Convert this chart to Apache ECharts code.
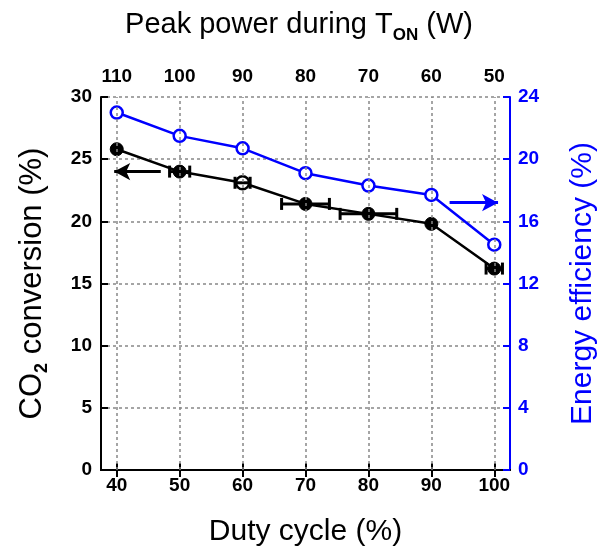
<!DOCTYPE html>
<html><head><meta charset="utf-8">
<script src="https://cdn.jsdelivr.net/npm/echarts@6/dist/echarts.min.js"></script>
<style>html,body{margin:0;padding:0;background:#fff}#c{width:598px;height:548px}</style>
</head><body><div id="c"></div>
<script>
// ---- data ----
const dutyCycle = [40, 50, 60, 70, 80, 90, 100];
const peakPower = [110, 100, 90, 80, 70, 60, 50];
const co2Conversion = [25.8, 24.0, 23.1, 21.4, 20.6, 19.8, 16.2];
const co2DutyErr = [0, 1.6, 1.2, 3.8, 4.5, 0, 1.3];
const energyEfficiency = [23.0, 21.5, 20.7, 19.1, 18.3, 17.7, 14.5];
const hollowIdx = [2];
const leftArrow = [[47.0, 24.0], [39.6, 24.0]];
const rightArrow = [[92.9, 17.2], [100.6, 17.2]];

const FONT = 'Liberation Sans';
const BLUE = '#0000ff';
const dutyMin = 37.5, dutyMax = 102.5;
const powerOf = d => 150 - d;

const chart = echarts.init(document.getElementById('c'), null, {renderer: 'canvas'});

const tickLabel = (color) => ({fontFamily: FONT, fontSize: 19, fontWeight: 'bold', color: color});

const option = {
  animation: false,
  backgroundColor: '#fff',
  title: {
    text: 'Peak power during T{s|ON} (W)',
    left: 'center', top: 1,
    textStyle: {
      fontFamily: FONT, fontSize: 29, fontWeight: 'normal', color: '#000', lineHeight: 38,
      rich: {s: {fontFamily: FONT, fontSize: 17, fontWeight: 'bold', color: '#000', lineHeight: 14, verticalAlign: 'bottom'}}
    }
  },
  grid: {left: 101, right: 88, top: 97, bottom: 78, containLabel: false, outerBoundsMode: 'none'},
  xAxis: [
    {
      type: 'value', position: 'bottom', min: dutyMin, max: dutyMax,
      name: 'Duty cycle (%)', nameLocation: 'middle', nameGap: 47,
      nameTextStyle: {fontFamily: FONT, fontSize: 30, color: '#000'},
      axisLine: {show: true, lineStyle: {color: '#000', width: 2}},
      axisTick: {show: true, inside: true, length: 7, lineStyle: {color: '#000', width: 2}, customValues: dutyCycle},
      axisLabel: Object.assign({customValues: dutyCycle, margin: 6}, tickLabel('#000')),
      splitLine: {show: false}
    },
    {
      type: 'value', position: 'top', min: powerOf(dutyMax), max: powerOf(dutyMin), inverse: true,
      axisLine: {show: true, lineStyle: {color: '#000', width: 2}},
      axisTick: {show: true, inside: true, length: 7, lineStyle: {color: '#000', width: 2}, customValues: peakPower},
      axisLabel: Object.assign({customValues: peakPower, margin: 11}, tickLabel('#000')),
      splitLine: {show: false}
    }
  ],
  yAxis: [
    {
      type: 'value', min: 0, max: 30, interval: 5, position: 'left',
      name: '{a|CO}{s|2}{a| conversion (%)}', nameLocation: 'middle', nameRotate: 90, nameGap: 50,
      nameTextStyle: {
        color: '#000', lineHeight: 38,
        rich: {
          a: {fontFamily: FONT, fontSize: 31, color: '#000', lineHeight: 38},
          s: {fontFamily: FONT, fontSize: 18, fontWeight: 'bold', color: '#000', lineHeight: 15, verticalAlign: 'bottom'}
        }
      },
      axisLine: {show: true, lineStyle: {color: '#000', width: 2}},
      axisTick: {show: true, inside: true, length: 7, lineStyle: {color: '#000', width: 2}},
      axisLabel: Object.assign({margin: 9}, tickLabel('#000')),
      splitLine: {show: true, lineStyle: {color: '#888', width: 1.5, type: [3, 3]}}
    },
    {
      type: 'value', min: 0, max: 24, interval: 4, position: 'right',
      name: 'Energy efficiency (%)', nameLocation: 'middle', nameRotate: 90, nameGap: 58,
      nameTextStyle: {fontFamily: FONT, fontSize: 30, color: BLUE},
      axisLine: {show: true, lineStyle: {color: BLUE, width: 2}},
      axisTick: {show: true, inside: true, length: 7, lineStyle: {color: BLUE, width: 2}},
      axisLabel: Object.assign({margin: 8}, tickLabel(BLUE)),
      splitLine: {show: false}
    }
  ],
  series: [
    {
      name: 'vgrid', type: 'line', xAxisIndex: 0, yAxisIndex: 0, data: [], silent: true, z: 1,
      markLine: {
        silent: true, symbol: ['none', 'none'], label: {show: false}, animation: false,
        lineStyle: {color: '#888', width: 1.5, type: [3, 3]},
        data: dutyCycle.map(d => ({xAxis: d}))
      }
    },
    {
      name: 'CO2 conversion', type: 'line', xAxisIndex: 0, yAxisIndex: 0, z: 3,
      data: dutyCycle.map((d, i) => ({
        value: [d, co2Conversion[i]],
        itemStyle: hollowIdx.includes(i) ? {color: '#fff', borderColor: '#000', borderWidth: 2.5} : {color: '#000', borderColor: '#000'}
      })),
      symbol: 'circle', symbolSize: 13, showSymbol: true,
      lineStyle: {color: '#000', width: 2.5},
      itemStyle: {color: '#000'},
      markLine: {
        silent: true, symbol: ['none', 'arrow'], symbolSize: [13, 16], label: {show: false},
        lineStyle: {color: '#000', width: 3, type: 'solid'},
        data: [[{coord: leftArrow[0]}, {coord: leftArrow[1]}]]
      }
    },
    {
      name: 'errors', type: 'custom', xAxisIndex: 0, yAxisIndex: 0, z: 4, silent: true,
      data: dutyCycle.map((d, i) => [d, co2Conversion[i], co2DutyErr[i]]),
      renderItem: function (params, api) {
        const err = api.value(2);
        if (!err) return null;
        const y = api.value(1), x = api.value(0);
        const p1 = api.coord([x - err, y]);
        const p2 = api.coord([x + err, y]);
        const h = 6;
        const style = {stroke: '#000', lineWidth: 3};
        return {
          type: 'group',
          children: [
            {type: 'line', shape: {x1: p1[0], y1: p1[1], x2: p2[0], y2: p2[1]}, style: style},
            {type: 'line', shape: {x1: p1[0], y1: p1[1] - h, x2: p1[0], y2: p1[1] + h}, style: style},
            {type: 'line', shape: {x1: p2[0], y1: p2[1] - h, x2: p2[0], y2: p2[1] + h}, style: style}
          ]
        };
      }
    },
    {
      name: 'Energy efficiency', type: 'line', xAxisIndex: 0, yAxisIndex: 1, z: 3,
      data: dutyCycle.map((d, i) => [d, energyEfficiency[i]]),
      symbol: 'circle', symbolSize: 12, showSymbol: true,
      lineStyle: {color: BLUE, width: 2.5},
      itemStyle: {color: '#fff', borderColor: BLUE, borderWidth: 2.5},
      markLine: {
        silent: true, symbol: ['none', 'arrow'], symbolSize: [13, 16], label: {show: false},
        lineStyle: {color: BLUE, width: 3, type: 'solid'},
        data: [[{coord: rightArrow[0]}, {coord: rightArrow[1]}]]
      }
    }
  ]
};
chart.setOption(option);
</script>
</body></html>
